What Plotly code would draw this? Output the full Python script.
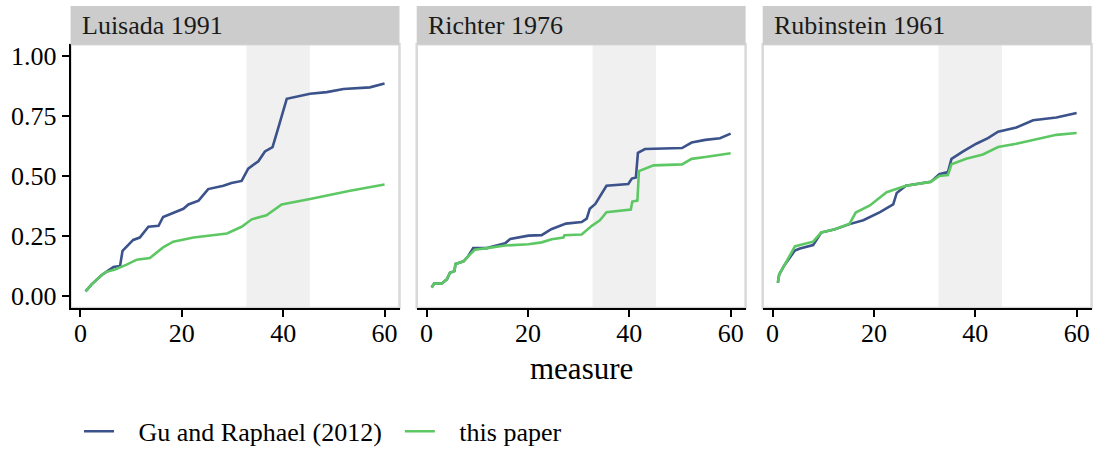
import plotly.graph_objects as go

# ---------------- data ----------------
panels = ["Luisada 1991", "Richter 1976", "Rubinstein 1961"]
series_names = ["Gu and Raphael (2012)", "this paper"]

luisada_gr_x = [1.0, 2.2, 4.2, 5.2, 6.5, 7.8, 8.3, 10.4, 11.7, 13.4, 15.4, 16.3, 18.3, 20.3, 21.3, 23.3,
                25.2, 28.2, 29.8, 31.8, 33.1, 35.1, 36.4, 37.9, 39.0, 40.7, 45.3, 48.6, 51.9, 57.1, 60.0]
luisada_gr_y = [0.02, 0.049, 0.088, 0.104, 0.121, 0.125, 0.189, 0.234, 0.244, 0.289, 0.293, 0.330, 0.348,
                0.364, 0.382, 0.398, 0.446, 0.460, 0.471, 0.480, 0.531, 0.562, 0.603, 0.621, 0.699, 0.822,
                0.843, 0.850, 0.863, 0.870, 0.886]
luisada_tp_x = [1.0, 2.2, 4.2, 5.0, 6.8, 9.0, 11.1, 13.7, 16.3, 18.3, 22.3, 25.6, 28.9, 31.8, 33.8, 36.7,
                39.7, 45.3, 53.2, 60.0]
luisada_tp_y = [0.02, 0.049, 0.088, 0.10, 0.111, 0.13, 0.152, 0.159, 0.203, 0.227, 0.244, 0.254, 0.261,
                0.289, 0.320, 0.337, 0.382, 0.405, 0.439, 0.465]

richter_gr_x = [1.0, 1.5, 3.0, 4.0, 4.6, 5.5, 5.7, 7.3, 8.2, 9.2, 11.9, 15.5, 16.5, 20.1, 22.7, 24.6, 27.5,
                30.6, 31.6, 32.2, 33.3, 34.6, 35.5, 39.8, 40.5, 41.3, 41.7, 43.1, 50.4, 52.3, 55.0, 57.9, 60.0]
richter_gr_y = [0.036, 0.052, 0.053, 0.070, 0.097, 0.104, 0.134, 0.145, 0.166, 0.200, 0.200, 0.220, 0.238,
                0.252, 0.254, 0.279, 0.302, 0.309, 0.323, 0.364, 0.384, 0.432, 0.460, 0.467, 0.490, 0.494,
                0.597, 0.613, 0.617, 0.640, 0.651, 0.658, 0.677]
richter_tp_x = [1.0, 1.5, 3.0, 4.0, 4.6, 5.5, 5.7, 7.3, 8.2, 9.5, 11.9, 15.5, 20.1, 22.7, 24.7, 27.0, 27.2,
                30.6, 32.6, 34.2, 35.5, 37.9, 40.3, 40.6, 41.6, 41.9, 44.8, 50.4, 52.3, 55.0, 57.9, 60.0]
richter_tp_y = [0.036, 0.052, 0.053, 0.070, 0.097, 0.104, 0.134, 0.145, 0.166, 0.193, 0.200, 0.211, 0.216,
                0.224, 0.237, 0.244, 0.254, 0.257, 0.293, 0.316, 0.350, 0.357, 0.361, 0.394, 0.398, 0.521,
                0.545, 0.549, 0.572, 0.580, 0.590, 0.595]

rubin_gr_x = [1.05, 1.3, 2.4, 4.4, 5.4, 8.0, 9.6, 12.3, 15.2, 17.9, 21.2, 23.8, 24.5, 26.3, 31.2, 32.9,
              34.6, 35.3, 37.6, 40.2, 42.5, 44.5, 48.1, 51.4, 56.0, 60.0]
rubin_gr_y = [0.056, 0.090, 0.131, 0.190, 0.198, 0.213, 0.265, 0.279, 0.300, 0.316, 0.350, 0.382, 0.430,
              0.460, 0.476, 0.508, 0.517, 0.572, 0.603, 0.635, 0.658, 0.685, 0.703, 0.733, 0.744, 0.763]
rubin_tp_x = [1.05, 1.3, 2.4, 4.4, 5.4, 8.0, 9.6, 12.3, 15.2, 16.4, 19.2, 22.5, 26.3, 31.2, 32.9, 34.6,
              35.3, 38.2, 41.5, 44.5, 48.1, 51.4, 56.0, 60.0]
rubin_tp_y = [0.056, 0.090, 0.131, 0.207, 0.213, 0.227, 0.265, 0.279, 0.302, 0.348, 0.378, 0.433, 0.460,
              0.476, 0.501, 0.505, 0.549, 0.572, 0.590, 0.621, 0.635, 0.651, 0.672, 0.680]

shade_start = 32.75
shade_end = 45.25

x_ticks = [0, 20, 40, 60]
y_ticks = [0, 0.25, 0.5, 0.75, 1.0]
y_tick_labels = ["0.00", "0.25", "0.50", "0.75", "1.00"]

# ---------------- style ----------------
W, H = 1095, 455
FONT = "Liberation Serif"
BLUE = "#3B528B"
GREEN = "#5DC863"
NB = "\u00a0"
panel_px = [(70.6, 399.5), (416.7, 745.6), (762.7, 1091.6)]
y_dom = [1 - 310.9 / H, 1 - 42.8 / H]
strip_y = [1 - 43.5 / H, 1 - 4 / H]

data_sets = [
    (luisada_gr_x, luisada_gr_y, luisada_tp_x, luisada_tp_y),
    (richter_gr_x, richter_gr_y, richter_tp_x, richter_tp_y),
    (rubin_gr_x, rubin_gr_y, rubin_tp_x, rubin_tp_y),
]
legend_labels = [NB * 3 + series_names[0] + NB * 2, NB * 3 + series_names[1]]

fig = go.Figure()
shapes = []
annotations = []
for i, (name, (gx, gy, tx, ty)) in enumerate(zip(panels, data_sets)):
    xa = "x" if i == 0 else f"x{i+1}"
    ya = "y" if i == 0 else f"y{i+1}"
    fig.add_trace(go.Scatter(x=gx, y=gy, mode="lines", name=legend_labels[0],
                             line=dict(color=BLUE, width=2.6), xaxis=xa, yaxis=ya,
                             showlegend=(i == 0), legendgroup="gr"))
    fig.add_trace(go.Scatter(x=tx, y=ty, mode="lines", name=legend_labels[1],
                             line=dict(color=GREEN, width=2.6), xaxis=xa, yaxis=ya,
                             showlegend=(i == 0), legendgroup="tp"))
    x0, x1 = panel_px[i][0] / W, panel_px[i][1] / W
    axkey = "xaxis" if i == 0 else f"xaxis{i+1}"
    aykey = "yaxis" if i == 0 else f"yaxis{i+1}"
    fig.layout[axkey] = dict(domain=[x0, x1], range=[-1.95, 62.95], anchor=ya,
                             tickvals=x_ticks, ticks="outside", ticklen=7, tickwidth=2,
                             tickcolor="black", showline=True, linecolor="black", linewidth=2,
                             showgrid=False, zeroline=False, ticklabelstandoff=-6,
                             tickfont=dict(family=FONT, size=26, color="black"))
    fig.layout[aykey] = dict(domain=y_dom, range=[-0.05, 1.05], anchor=xa,
                             tickvals=y_ticks, ticktext=y_tick_labels,
                             showgrid=False, zeroline=False,
                             tickfont=dict(family=FONT, size=26, color="black"),
                             showticklabels=(i == 0), ticks="outside" if i == 0 else "",
                             ticklen=7, tickwidth=2, tickcolor="black",
                             showline=(i == 0), linecolor="black", linewidth=2)
    shapes.append(dict(type="rect", xref=xa, yref="paper", x0=shade_start, x1=shade_end,
                       y0=y_dom[0], y1=y_dom[1], fillcolor="#F0F0F0", line=dict(width=0),
                       layer="below"))
    shapes.append(dict(type="rect", xref="paper", yref="paper", x0=x0, x1=x1,
                       y0=y_dom[0], y1=y_dom[1], fillcolor="rgba(0,0,0,0)",
                       line=dict(color="#D9D9D9", width=2.5), layer="below"))
    shapes.append(dict(type="rect", xref="paper", yref="paper", x0=x0, x1=x1,
                       y0=strip_y[0], y1=strip_y[1], fillcolor="#CCCCCC", line=dict(width=0),
                       layer="above"))
    annotations.append(dict(text=name, xref="paper", yref="paper", x=x0 + 9.5 / W,
                            y=(strip_y[0] + strip_y[1]) / 2, xanchor="left", yanchor="middle",
                            showarrow=False, font=dict(family=FONT, size=26, color="#1A1A1A")))

annotations.append(dict(text="measure", xref="paper", yref="paper",
                        x=(panel_px[0][0] + panel_px[2][1]) / 2 / W, y=1 - 372 / H,
                        xanchor="center", yanchor="middle", showarrow=False,
                        font=dict(family=FONT, size=31, color="black")))

fig.update_layout(
    width=W, height=H,
    margin=dict(l=0, r=0, t=0, b=0),
    paper_bgcolor="white", plot_bgcolor="white",
    shapes=shapes, annotations=annotations,
    showlegend=True,
    legend=dict(orientation="h", x=79 / W, y=1 - 436 / H, xanchor="left", yanchor="middle",
                font=dict(family=FONT, size=26, color="black"), bgcolor="rgba(0,0,0,0)",
                itemwidth=30),
)

fig.write_html("out.html")
